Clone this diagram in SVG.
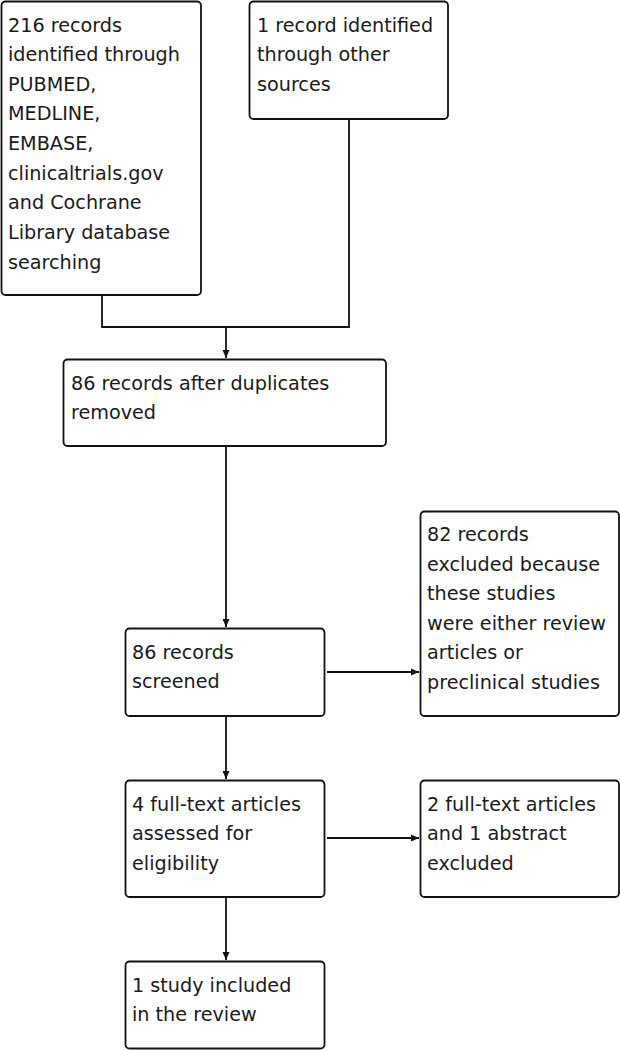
<svg xmlns="http://www.w3.org/2000/svg" width="620" height="1050" viewBox="0 0 620 1050">
<style>
.box{fill:#fff;stroke:#111;stroke-width:1.8}
.t{font-family:"DejaVu Sans",sans-serif;font-size:19.2px;fill:#1a1a1a}
.c{fill:none;stroke:#111;stroke-width:1.8}
</style>
<defs>
<marker id="ah" markerWidth="9" markerHeight="9" refX="8" refY="4.5" orient="auto" markerUnits="userSpaceOnUse">
<path d="M0,1 L8,4.5 L0,8 Z" fill="#111"/>
</marker>
</defs>
<rect width="620" height="1050" fill="#fff"/>
<g id="connectors">
<path class="c" d="M102,295 V327 H349 V119"/>
<path class="c" d="M226,327 V358" marker-end="url(#ah)"/>
<path class="c" d="M226,446 V627" marker-end="url(#ah)"/>
<path class="c" d="M327,672 H419" marker-end="url(#ah)"/>
<path class="c" d="M226,716 V779" marker-end="url(#ah)"/>
<path class="c" d="M327,838 H419" marker-end="url(#ah)"/>
<path class="c" d="M226,897 V960" marker-end="url(#ah)"/>
</g>
<g id="n1"><rect class="box" x="1.5" y="1.5" width="199.5" height="293.5" rx="4"/>
<text class="t"><tspan x="8" y="31.5">216 records</tspan><tspan x="8" y="61.2">identified through</tspan><tspan x="8" y="90.8">PUBMED,</tspan><tspan x="8" y="120.4">MEDLINE,</tspan><tspan x="8" y="150">EMBASE,</tspan><tspan x="8" y="179.7">clinicaltrials.gov</tspan><tspan x="8" y="209.3">and Cochrane</tspan><tspan x="8" y="239">Library database</tspan><tspan x="8" y="268.5">searching</tspan></text></g>
<g id="n2"><rect class="box" x="249.5" y="1.5" width="198.5" height="117.5" rx="4"/>
<text class="t"><tspan x="257" y="31.5">1 record identified</tspan><tspan x="257" y="61.2">through other</tspan><tspan x="257" y="90.8">sources</tspan></text></g>
<g id="n3"><rect class="box" x="63.5" y="359.5" width="322.5" height="86.5" rx="4"/>
<text class="t"><tspan x="71" y="389.5">86 records after duplicates</tspan><tspan x="71" y="419">removed</tspan></text></g>
<g id="n4"><rect class="box" x="125.5" y="628.5" width="199" height="87.5" rx="4"/>
<text class="t"><tspan x="132" y="658.5">86 records</tspan><tspan x="132" y="688">screened</tspan></text></g>
<g id="n5"><rect class="box" x="420.5" y="511.5" width="198.5" height="204.5" rx="4"/>
<text class="t"><tspan x="427" y="541">82 records</tspan><tspan x="427" y="570.5">excluded because</tspan><tspan x="427" y="600">these studies</tspan><tspan x="427" y="629.5">were either review</tspan><tspan x="427" y="659">articles or</tspan><tspan x="427" y="688.5">preclinical studies</tspan></text></g>
<g id="n6"><rect class="box" x="125.5" y="780.5" width="199" height="116.5" rx="4"/>
<text class="t"><tspan x="132" y="810.5">4 full-text articles</tspan><tspan x="132" y="840">assessed for</tspan><tspan x="132" y="869.5">eligibility</tspan></text></g>
<g id="n7"><rect class="box" x="420.5" y="780.5" width="198.5" height="116.5" rx="4"/>
<text class="t"><tspan x="427" y="810.5">2 full-text articles</tspan><tspan x="427" y="840">and 1 abstract</tspan><tspan x="427" y="869.5">excluded</tspan></text></g>
<g id="n8"><rect class="box" x="125.5" y="961.5" width="199" height="87" rx="4"/>
<text class="t"><tspan x="132" y="991.5">1 study included</tspan><tspan x="132" y="1021">in the review</tspan></text></g>
</svg>
